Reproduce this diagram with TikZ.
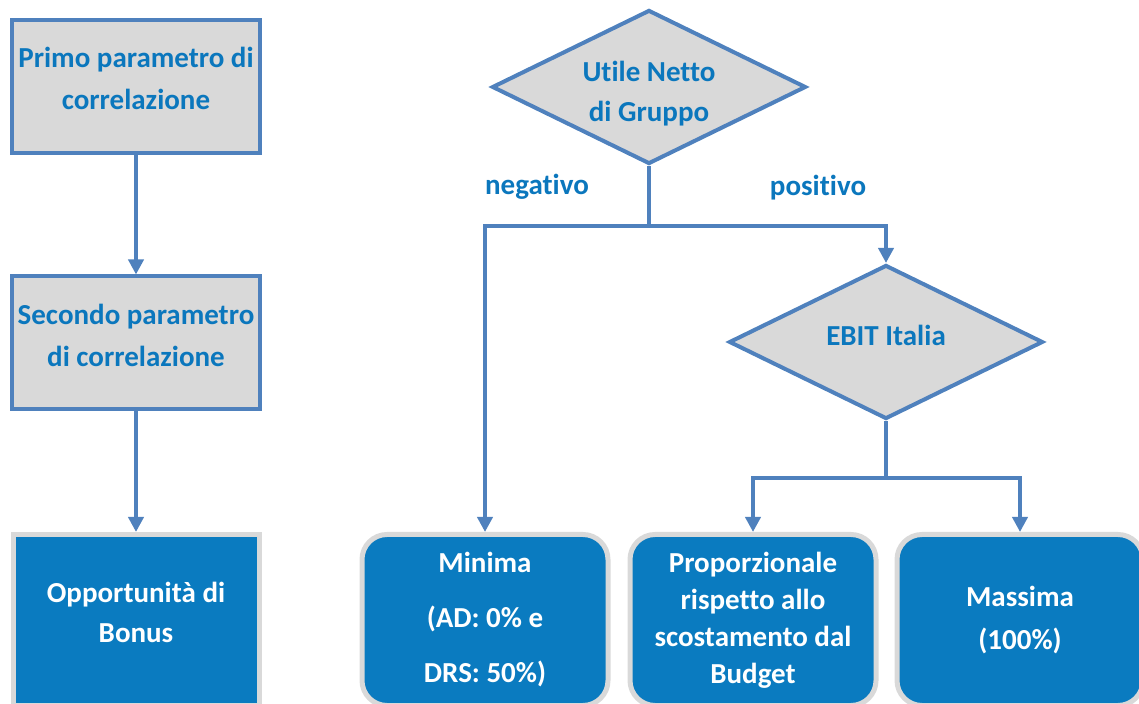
\documentclass[tikz,border=0pt]{standalone}
\usepackage{fontspec}
\setmainfont{Carlito}[Ligatures=NoCommon]
\usepackage{xcolor}
\usepackage{tikz}
\usetikzlibrary{positioning,shapes.geometric,arrows.meta}

\definecolor{linkblue}{HTML}{4F81BD}
\definecolor{boxgrey}{HTML}{D9D9D9}
\definecolor{textblue}{HTML}{0B77BD}
\definecolor{fillblue}{HTML}{0A7BC0}
\newcommand{\flowfont}[1]{\bfseries\fontsize{14.5}{#1}\selectfont}

\begin{document}
\begin{tikzpicture}[x=0.5pt,y=-0.5pt,
  greybox/.style={draw=linkblue,line width=2pt,fill=boxgrey,text=textblue,
    minimum width=124pt,minimum height=66.5pt,inner xsep=1pt,align=center,font=\flowfont{21pt}},
  bluebox/.style={draw=boxgrey,line width=2.5pt,fill=fillblue,text=white,
    minimum width=123pt,minimum height=85.5pt,inner xsep=1pt,align=center,font=\flowfont{20pt}},
  decision/.style={diamond,aspect=2,draw=linkblue,line width=2pt,fill=boxgrey,text=textblue,
    minimum width=157pt,minimum height=77pt,inner sep=0pt,align=center,font=\flowfont{20pt}},
  branch/.style={text=textblue,font=\flowfont{20pt}},
  link/.style={draw=linkblue,line width=2pt},
  arrow/.style={link,-{Triangle[width=7.5pt,length=7.5pt]}}]
  \useasboundingbox (0,0) rectangle (1139,704);
  % left column
  \node[greybox,text depth=8pt] (first) at (136,86.5) {Primo parametro di\\correlazione};
  \node[greybox,text depth=8pt] (second) at (136,343) {Secondo parametro\\di correlazione};
  \node[bluebox,text depth=8pt] (bonus) at (136,620) {Opportunità di\\Bonus};
  \draw[arrow] (first) -- (second);
  \draw[arrow] (second) -- (bonus);
  % decisions
  \node[decision,text height=37pt] (utile) at (649,87) {Utile Netto\\di Gruppo};
  \node[decision,text depth=7pt] (ebit) at (886,342) {EBIT Italia};
  \node[branch] (neg) at (537,187) {negativo};
  \node[branch] (pos) at (818,188) {positivo};
  % outcomes
  \node[bluebox,rounded corners=12.5pt,font=\flowfont{27.5pt}] (minima) at (485,620) {Minima\\(AD: 0\% e\\DRS: 50\%)};
  \node[bluebox,rounded corners=12.5pt,font=\flowfont{18.5pt}] (prop) at (753,620) {Proporzionale\\rispetto allo\\scostamento dal\\Budget};
  \node[bluebox,rounded corners=12.5pt,font=\flowfont{21.5pt}] (massima) at (1020,620) {Massima\\(100\%)};
  \coordinate (split) at (649,226);
  \coordinate (fork) at (886,478);
  \draw[link] (utile.south) -- (split);
  \draw[arrow] (split) -| (minima.north);
  \draw[arrow] (split) -| (ebit.north);
  \draw[link] (ebit.south) -- (fork);
  \draw[arrow] (fork) -| (prop.north);
  \draw[arrow] (fork) -| (massima.north);
\end{tikzpicture}
\end{document}
